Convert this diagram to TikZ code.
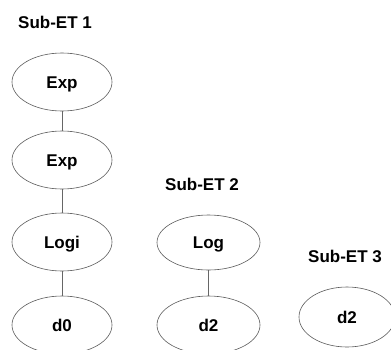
\documentclass[tikz,border=0pt]{standalone}
\usepackage{fontspec}
\setmainfont{Liberation Sans}
\usetikzlibrary{shapes.geometric}
\begin{document}
\begin{tikzpicture}[x=1pt,y=-1pt,
  ell/.style={ellipse, draw=black!65, line width=0.6pt, minimum width=100pt, minimum height=58pt,
    inner sep=0pt, font=\fontsize{17}{17}\selectfont\bfseries, text height=12.2pt, text depth=0pt},
  ttl/.style={anchor=base, inner sep=0pt, font=\fontsize{17}{17}\selectfont\bfseries},
  conn/.style={draw=black!60, line width=0.6pt}]
\useasboundingbox (0,0) rectangle (391,349);
\node[ttl] (t1) at (55,28) {Sub-ET 1};
\node[ttl] (t2) at (202,190) {Sub-ET 2};
\node[ttl] (t3) at (345,262) {Sub-ET 3};
\node[ell] (e1) at (62,82) {Exp};
\node[ell] (e2) at (62,160) {Exp};
\node[ell] (lg1) at (62,242) {Logi};
\node[ell] (d0) at (62,325) {d0};
\node[ell, minimum width=103pt, minimum height=55pt] (lg2) at (208.5,242.5) {Log};
\node[ell, minimum width=103pt] (d2a) at (208.5,325) {d2};
\node[ell, minimum width=96pt, minimum height=60pt] (d2b) at (347,317) {d2};
\draw[conn] (e1) -- (e2);
\draw[conn] (e2) -- (lg1);
\draw[conn] (lg1) -- (d0);
\draw[conn] (lg2) -- (d2a);
\end{tikzpicture}
\end{document}
